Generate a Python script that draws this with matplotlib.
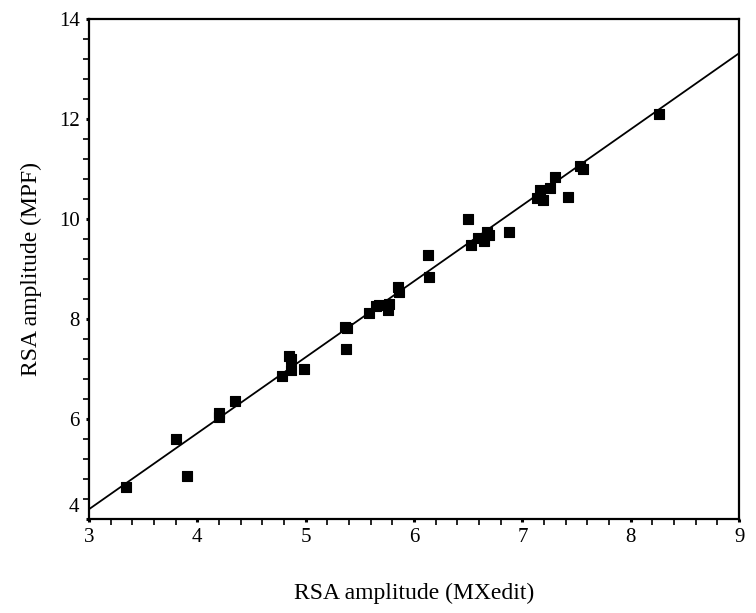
import numpy as np
import matplotlib.pyplot as plt
from matplotlib.ticker import MultipleLocator, FuncFormatter

# RSA amplitude, MXedit (x) vs MPF (y)
mxedit = [3.34, 3.80, 3.90, 4.20, 4.20, 4.35, 4.78, 4.85, 4.86, 4.86, 4.98,
          5.36, 5.38, 5.37, 5.58, 5.65, 5.68, 5.77, 5.76, 5.85, 5.86,
          6.13, 6.14, 6.50, 6.53, 6.59, 6.65, 6.67, 6.69, 6.88,
          7.13, 7.16, 7.19, 7.25, 7.30, 7.42, 7.53, 7.56, 8.26]
mpf = [4.64, 5.59, 4.86, 6.11, 6.03, 6.36, 6.85, 7.25, 7.19, 6.97, 6.99,
       7.84, 7.81, 7.39, 8.12, 8.25, 8.27, 8.29, 8.17, 8.63, 8.53,
       9.27, 8.84, 9.99, 9.47, 9.61, 9.56, 9.74, 9.67, 9.74,
       10.41, 10.57, 10.37, 10.61, 10.84, 10.44, 11.06, 10.99, 12.09]

# regression line
fit_slope = 1.52
fit_intercept = -0.37

plt.rcParams['font.family'] = ['Liberation Serif', 'DejaVu Serif']

fig = plt.figure(figsize=(7.56, 6.13), dpi=100)
ax = fig.add_axes([0.1177, 0.1538, 0.86, 0.8157])

ax.scatter(mxedit, mpf, marker='s', s=55, c='black', edgecolors='black',
           linewidths=0.8, zorder=3)

xl = np.array([3, 9])
ax.plot(xl, fit_slope * xl + fit_intercept, color='black', lw=1.3, zorder=2)

ax.set_xlim(3, 9)
ax.set_ylim(4, 14)
ax.xaxis.set_major_locator(MultipleLocator(1))
ax.xaxis.set_minor_locator(MultipleLocator(0.2))
ax.yaxis.set_major_locator(MultipleLocator(2))
ax.yaxis.set_minor_locator(MultipleLocator(0.4))
# the "4" sits a little above the corner in the original, drawn separately
ax.yaxis.set_major_formatter(FuncFormatter(lambda v, p: '' if v == 4 else '%d' % v))
ax.annotate('4', xy=(0, 4), xycoords=('axes fraction', 'data'),
            xytext=(-7, 8), textcoords='offset points',
            ha='right', va='center', fontsize=15)

for s in ax.spines.values():
    s.set_linewidth(1.6)
ax.tick_params(which='major', direction='out', length=2.5, width=2.2,
               labelsize=15, pad=4)
ax.tick_params(which='minor', direction='out', length=4, width=1.2)

ax.set_xlabel('RSA amplitude (MXedit)', fontsize=17, labelpad=26)
ax.set_ylabel('RSA amplitude (MPF)', fontsize=17, labelpad=12)

fig.savefig('out.png', dpi=100)
